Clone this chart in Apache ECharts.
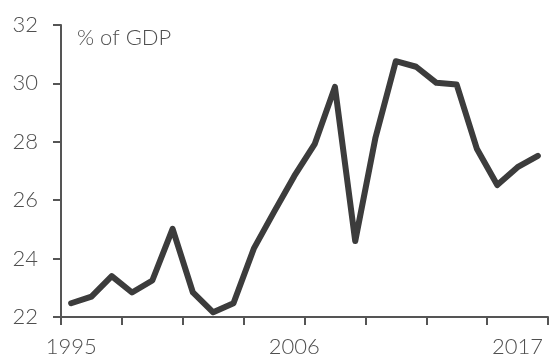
<!DOCTYPE html>
<html>
<head>
<meta charset="utf-8">
<script src="https://cdn.jsdelivr.net/npm/echarts@6/dist/echarts.min.js"></script>
<style>
  html, body { margin: 0; padding: 0; background: #fff; }
  #chart { width: 549px; height: 358px; }
</style>
</head>
<body>
<div id="chart"></div>
<script>
// Annual values, % of GDP
const years = ['1995','1996','1997','1998','1999','2000','2001','2002','2003','2004','2005','2006',
               '2007','2008','2009','2010','2011','2012','2013','2014','2015','2016','2017','2018'];
const shareOfGdp = [22.47, 22.7, 23.4, 22.84, 23.25, 25.02, 22.84, 22.16, 22.47, 24.34, 25.6, 26.83,
                    27.92, 29.88, 24.6, 28.15, 30.76, 30.57, 30.02, 29.96, 27.75, 26.52, 27.13, 27.52];
const unitLabel = '% of GDP';

const textColor = '#4f4f4f';
const axisColor = '#555555';
const font = 'Lato, "Open Sans", sans-serif';

const chart = echarts.init(document.getElementById('chart'), null, { renderer: 'canvas' });
chart.setOption({
  animation: false,
  backgroundColor: '#ffffff',
  title: {
    text: unitLabel,
    left: 77,
    top: 27,
    padding: 0,
    textStyle: { fontFamily: font, fontSize: 22, fontWeight: 300, color: textColor }
  },
  grid: { left: 61, right: 1, top: 25, bottom: 39, containLabel: false },
  xAxis: {
    type: 'category',
    data: years,
    boundaryGap: true,
    axisLine: { show: true, lineStyle: { color: axisColor, width: 2 } },
    axisTick: { show: true, interval: 2, length: 8, lineStyle: { color: axisColor, width: 2 } },
    axisLabel: { interval: 10, margin: 19, fontFamily: font, fontSize: 22, fontWeight: 300, color: textColor },
    splitLine: { show: false }
  },
  yAxis: {
    type: 'value',
    min: 22,
    max: 32,
    interval: 2,
    axisLine: { show: true, lineStyle: { color: axisColor, width: 2 } },
    axisTick: { show: true, length: 8, lineStyle: { color: axisColor, width: 2 } },
    axisLabel: { margin: 23, fontFamily: font, fontSize: 22, fontWeight: 300, color: textColor },
    splitLine: { show: false }
  },
  series: [{
    type: 'line',
    data: shareOfGdp,
    symbol: 'none',
    lineStyle: { color: '#3c3c3c', width: 6, join: 'round', cap: 'round' }
  }]
});
</script>
</body>
</html>
